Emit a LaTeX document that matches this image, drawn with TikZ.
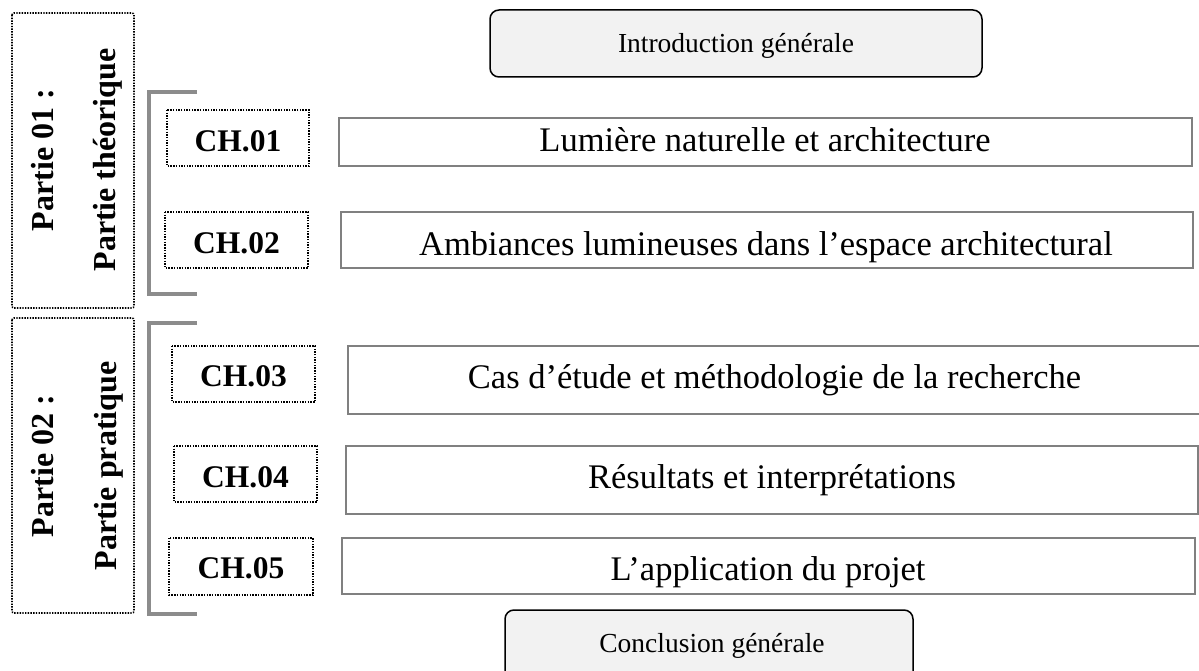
\documentclass[tikz,border=0pt]{standalone}
\usepackage{fontspec}
\setmainfont{Liberation Serif}
\begin{document}
\begin{tikzpicture}[x=1pt,y=-1pt,
  dotbox/.style={draw=black, line width=1.6pt, dash pattern=on 1.4pt off 1.3pt},
  partbox/.style={dotbox, rounded corners=2pt},
  titlebox/.style={draw=black!50, line width=1.8pt},
  endbox/.style={draw=black, line width=1.5pt, fill=black!5, rounded corners=9pt},
  bracket/.style={draw=black!45, line width=4pt},
  chtext/.style={font=\fontsize{31.5}{31.5}\selectfont\bfseries, anchor=base, inner sep=0pt},
  titletext/.style={font=\fontsize{34.5}{34.5}\selectfont, anchor=base, inner sep=0pt},
  parttext/.style={font=\fontsize{32}{32}\selectfont\bfseries, anchor=base, rotate=90, inner sep=0pt},
  endtext/.style={font=\fontsize{27.5}{27.5}\selectfont, anchor=base, inner sep=0pt},
]
\useasboundingbox (0,0) rectangle (1199,671);
\clip (0,0) rectangle (1199,671);

% part boxes
\draw[partbox] (12,13) rectangle (134,308);
\draw[partbox] (12,318) rectangle (134,613);
\node[parttext] (p1a) at (53,160) {Partie 01 :};
\node[parttext] (p1b) at (115,160) {Partie théorique};
\node[parttext] (p2a) at (53,466) {Partie 02 :};
\node[parttext] (p2b) at (116,466) {Partie pratique};

% brackets
\draw[bracket] (197,92) -- (149,92) -- (149,294) -- (197,294);
\draw[bracket] (197,323) -- (149,323) -- (149,614) -- (197,614);

% intro / conclusion
\draw[endbox] (490,10) rectangle (982,77);
\node[endtext] (intro) at (736,53) {Introduction générale};
\draw[endbox] (505,610) rectangle (913,700);
\node[endtext] (conc) at (712,652) {Conclusion générale};

% chapter boxes
\draw[dotbox] (167,110) rectangle (309,166);
\node[chtext] (c1) at (238,152) {CH.01};
\draw[dotbox] (165,212) rectangle (308,268);
\node[chtext] (c2) at (236.5,253) {CH.02};
\draw[dotbox] (172,346) rectangle (315,402);
\node[chtext] (c3) at (243.5,386) {CH.03};
\draw[dotbox] (174,446) rectangle (317,502);
\node[chtext] (c4) at (245.5,487) {CH.04};
\draw[dotbox] (169,538) rectangle (313,595);
\node[chtext] (c5) at (241,578) {CH.05};

% title boxes
\draw[titlebox] (339,118) rectangle (1192,166);
\node[titletext] (t1) at (765,152) {Lumière naturelle et architecture};
\draw[titlebox] (341,212) rectangle (1193,268);
\node[titletext] (t2) at (766,255) {Ambiances lumineuses dans l’espace architectural};
\draw[titlebox] (348,346) rectangle (1230,414);
\node[titletext] (t3) at (774.5,388) {Cas d’étude et méthodologie de la recherche};
\draw[titlebox] (346,446) rectangle (1198,514);
\node[titletext] (t4) at (772,488) {Résultats et interprétations};
\draw[titlebox] (342,538) rectangle (1195,594);
\node[titletext] (t5) at (768,580) {L’application du projet};
\end{tikzpicture}
\end{document}
